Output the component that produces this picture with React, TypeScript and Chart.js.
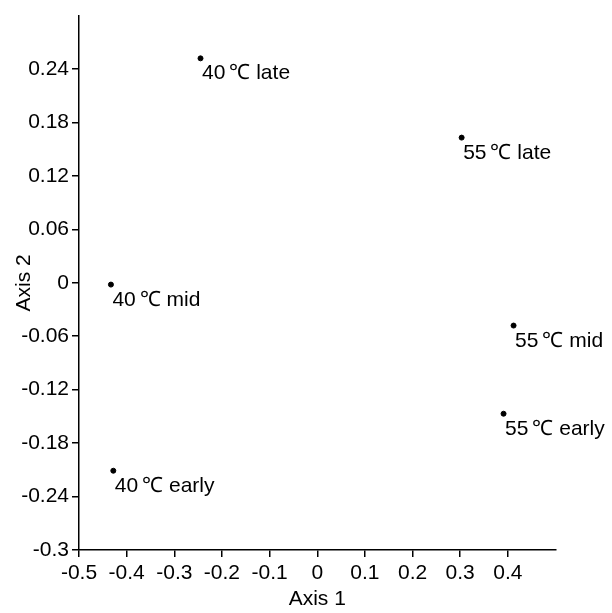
import React, { useEffect, useRef } from "react";
import { Chart, registerables } from "chart.js";

Chart.register(...registerables);

const pointLabels = ["40℃ late", "55℃ late", "40℃ mid", "55℃ mid", "55℃ early", "40℃ early"];
const axis1Values = [-0.245, 0.303, -0.433, 0.412, 0.391, -0.428];
const axis2Values = [0.252, 0.163, -0.002, -0.048, -0.147, -0.211];

const xTickValues = [-0.5, -0.4, -0.3, -0.2, -0.1, 0, 0.1, 0.2, 0.3, 0.4];
const xTickLabels = ["-0.5", "-0.4", "-0.3", "-0.2", "-0.1", "0", "0.1", "0.2", "0.3", "0.4"];
const yTickValues = [-0.3, -0.24, -0.18, -0.12, -0.06, 0, 0.06, 0.12, 0.18, 0.24];
const yTickLabels = ["-0.3", "-0.24", "-0.18", "-0.12", "-0.06", "0", "0.06", "0.12", "0.18", "0.24"];

const FONT = "'Liberation Sans', Arial, Helvetica, sans-serif";
const FS = 21;

const labelPlugin = {
  id: "pointLabelsPlugin",
  afterDatasetsDraw(chart: any) {
    const ctx = chart.ctx;
    const meta = chart.getDatasetMeta(0);
    ctx.save();
    ctx.fillStyle = "#000";
    ctx.textAlign = "left";
    ctx.textBaseline = "alphabetic";
    ctx.font = `${FS}px ${FONT}`;
    meta.data.forEach((el: any, i: number) => {
      const text = pointLabels[i];
      let x = el.x + 1.5;
      const y = el.y + 21;
      const parts = text.split(/(℃)/);
      parts.forEach((p) => {
        if (!p) return;
        if (p === "℃") x += 4;
        ctx.fillText(p, x, y);
        x += ctx.measureText(p).width;
      });
    });
    ctx.restore();
  },
};

export default function App() {
  const ref = useRef<HTMLCanvasElement | null>(null);

  useEffect(() => {
    if (!ref.current) return;
    Chart.defaults.font.family = FONT;
    Chart.defaults.font.size = FS;
    Chart.defaults.color = "#000";
    const chart = new Chart(ref.current, {
      type: "scatter",
      data: {
        datasets: [
          {
            data: axis1Values.map((x, i) => ({ x, y: axis2Values[i] })),
            backgroundColor: "#000",
            borderColor: "#000",
            pointRadius: 2.5,
            pointHoverRadius: 2.5,
            clip: false as any,
          },
        ],
      },
      options: {
        animation: false,
        responsive: false,
        devicePixelRatio: 1,
        layout: { padding: { top: 10, right: 56.5, left: 0, bottom: 0 } },
        plugins: { legend: { display: false }, tooltip: { enabled: false } },
        scales: {
          x: {
            type: "linear",
            min: -0.5,
            max: 0.5,
            afterBuildTicks: (scale: any) => {
              scale.ticks = xTickValues.map((v) => ({ value: v }));
            },
            afterFit: (scale: any) => {
              scale.height = 63;
            },
            ticks: {
              autoSkip: false,
              maxRotation: 0,
              padding: 4,
              font: { size: FS },
              callback: (_v: any, i: number) => xTickLabels[i],
            },
            grid: {
              drawOnChartArea: false,
              drawTicks: true,
              tickLength: 7,
              color: "#000",
              lineWidth: 1.5,
            },
            border: { display: true, color: "#000", width: 1.5 },
            title: { display: true, text: "Axis 1", font: { size: FS }, padding: { top: 0, bottom: 1.5 } },
          },
          y: {
            type: "linear",
            min: -0.3,
            max: 0.3,
            afterBuildTicks: (scale: any) => {
              scale.ticks = yTickValues.map((v) => ({ value: v }));
            },
            afterFit: (scale: any) => {
              scale.width = 79;
            },
            ticks: {
              autoSkip: false,
              padding: 3,
              font: { size: FS },
              callback: (_v: any, i: number) => yTickLabels[i],
            },
            grid: {
              drawOnChartArea: false,
              drawTicks: true,
              tickLength: 7,
              color: "#000",
              lineWidth: 1.5,
            },
            border: { display: true, color: "#000", width: 1.5 },
            title: { display: true, text: "Axis 2", font: { size: FS }, padding: { top: 11.5, bottom: 0 } },
          },
        },
      },
      plugins: [labelPlugin],
    });
    return () => chart.destroy();
  }, []);

  return (
    <div style={{ position: "absolute", left: 0, top: 0, width: 612, height: 613, background: "#fff" }}>
      <canvas ref={ref} width={612} height={613} style={{ width: 612, height: 613, display: "block" }} />
    </div>
  );
}
